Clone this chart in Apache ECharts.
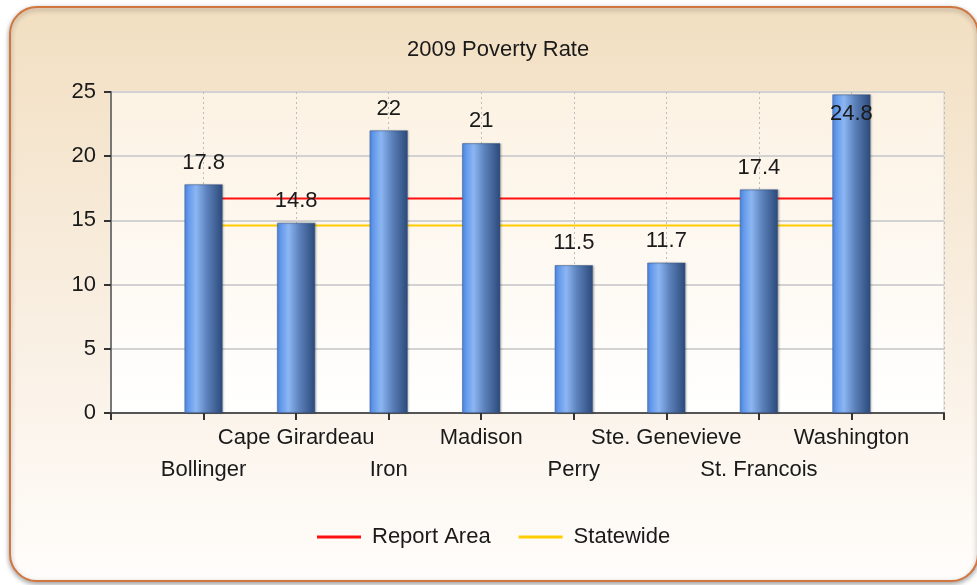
<!DOCTYPE html>
<html>
<head>
<meta charset="utf-8">
<script src="https://cdn.jsdelivr.net/npm/echarts@6/dist/echarts.min.js"></script>
<style>
html,body{margin:0;padding:0;background:#fff;}
#chart{width:977px;height:585px;}
</style>
</head>
<body>
<div id="chart"></div>
<script>
const title = '2009 Poverty Rate';
const categories = ['Bollinger', 'Cape Girardeau', 'Iron', 'Madison', 'Perry', 'Ste. Genevieve', 'St. Francois', 'Washington'];
const povertyRate = [17.8, 14.8, 22, 21, 11.5, 11.7, 17.4, 24.8];
const reportArea = 16.7;
const statewide = 14.6;
const yMin = 0, yMax = 25, yStep = 5;

const FONT = "'Liberation Sans', Arial, sans-serif";
const TXT = '#1a1a1a';

// padded category axis: empty slot at each end
const axisData = [''].concat(categories, ['']);
const barData = [null].concat(povertyRate.map(v => v > yMax - 1.5
  ? { value: v, label: { position: 'insideTop', distance: 8 } }
  : v), [null]);
const reportData = [null].concat(categories.map(() => reportArea), [null]);
const stateData = [null].concat(categories.map(() => statewide), [null]);

const chart = echarts.init(document.getElementById('chart'), null, { renderer: 'canvas' });
chart.setOption({
  backgroundColor: '#ffffff',
  animation: false,
  textStyle: { fontFamily: FONT },
  graphic: [{
    type: 'rect',
    z: -100,
    silent: true,
    shape: { x: 10, y: 7, width: 968, height: 574, r: 27 },
    style: {
      fill: new echarts.graphic.LinearGradient(0, 0, 0, 1, [
        { offset: 0, color: '#f2dfc1' },
        { offset: 0.55, color: '#f9efe2' },
        { offset: 1, color: '#fffdfb' }
      ]),
      stroke: '#d2763f',
      lineWidth: 2,
      shadowBlur: 5,
      shadowOffsetY: 2,
      shadowColor: 'rgba(0,0,0,0.35)'
    }
  }],
  title: {
    text: title,
    left: 407,
    top: 39,
    padding: 0,
    textStyle: { fontFamily: FONT, fontSize: 22, fontWeight: 'normal', color: TXT }
  },
  legend: {
    left: 317,
    top: 526,
    padding: 0,
    itemWidth: 44,
    itemHeight: 3,
    itemGap: 28,
    data: [{ name: 'Report Area', icon: 'rect' }, { name: 'Statewide', icon: 'rect' }],
    textStyle: { fontFamily: FONT, fontSize: 22, color: TXT, padding: [0, 0, 0, 6] }
  },
  grid: {
    left: 111, right: 33, top: 92, bottom: 172,
    show: true,
    borderColor: '#d6d6d6',
    borderWidth: 1,
    backgroundColor: new echarts.graphic.LinearGradient(0, 0, 0, 1, [
      { offset: 0, color: '#fcf2e3' },
      { offset: 1, color: '#ffffff' }
    ])
  },
  xAxis: {
    type: 'category',
    data: axisData,
    boundaryGap: false,
    axisLine: { show: true, lineStyle: { color: '#555', width: 2 } },
    axisTick: { show: true, length: 7, inside: false, lineStyle: { color: '#333', width: 2 } },
    splitLine: { show: true, lineStyle: { color: '#bdbdbd', type: [2, 3], width: 1 } },
    axisLabel: {
      interval: 0,
      margin: 9,
      fontFamily: FONT,
      fontSize: 22,
      color: TXT,
      lineHeight: 32,
      formatter: function (v, i) { return (i % 2 === 1) ? '\n' + v : v; }
    }
  },
  yAxis: {
    type: 'value',
    min: yMin, max: yMax, interval: yStep,
    axisLine: { show: true, lineStyle: { color: '#777', width: 2 } },
    axisTick: { show: true, length: 7, lineStyle: { color: '#333', width: 2 } },
    splitLine: { show: true, lineStyle: { color: '#d2d2d2', width: 2 } },
    axisLabel: { fontFamily: FONT, fontSize: 22, color: TXT, margin: 15 }
  },
  series: [
    {
      name: 'Report Area',
      type: 'line',
      data: reportData,
      symbol: 'none',
      z: 1,
      color: '#ff1010',
      lineStyle: { color: '#ff1010', width: 2 }
    },
    {
      name: 'Statewide',
      type: 'line',
      data: stateData,
      symbol: 'none',
      z: 1,
      color: '#ffcc00',
      lineStyle: { color: '#ffcc00', width: 2 }
    },
    {
      name: 'Poverty Rate',
      type: 'bar',
      data: barData,
      barWidth: 38,
      z: 3,
      itemStyle: {
        color: new echarts.graphic.LinearGradient(0, 0, 1, 0, [
          { offset: 0, color: '#4f8be8' },
          { offset: 0.3, color: '#8cb6f2' },
          { offset: 0.6, color: '#5a7fb9' },
          { offset: 1, color: '#2c4a7a' }
        ]),
        borderColor: '#3a5a8a',
        borderWidth: 0.5,
        shadowBlur: 2,
        shadowOffsetX: 1,
        shadowColor: 'rgba(0,0,0,0.25)'
      },
      label: {
        show: true,
        position: 'top',
        distance: 11,
        fontFamily: FONT,
        fontSize: 22,
        color: TXT
      }
    }
  ]
});
</script>
</body>
</html>
